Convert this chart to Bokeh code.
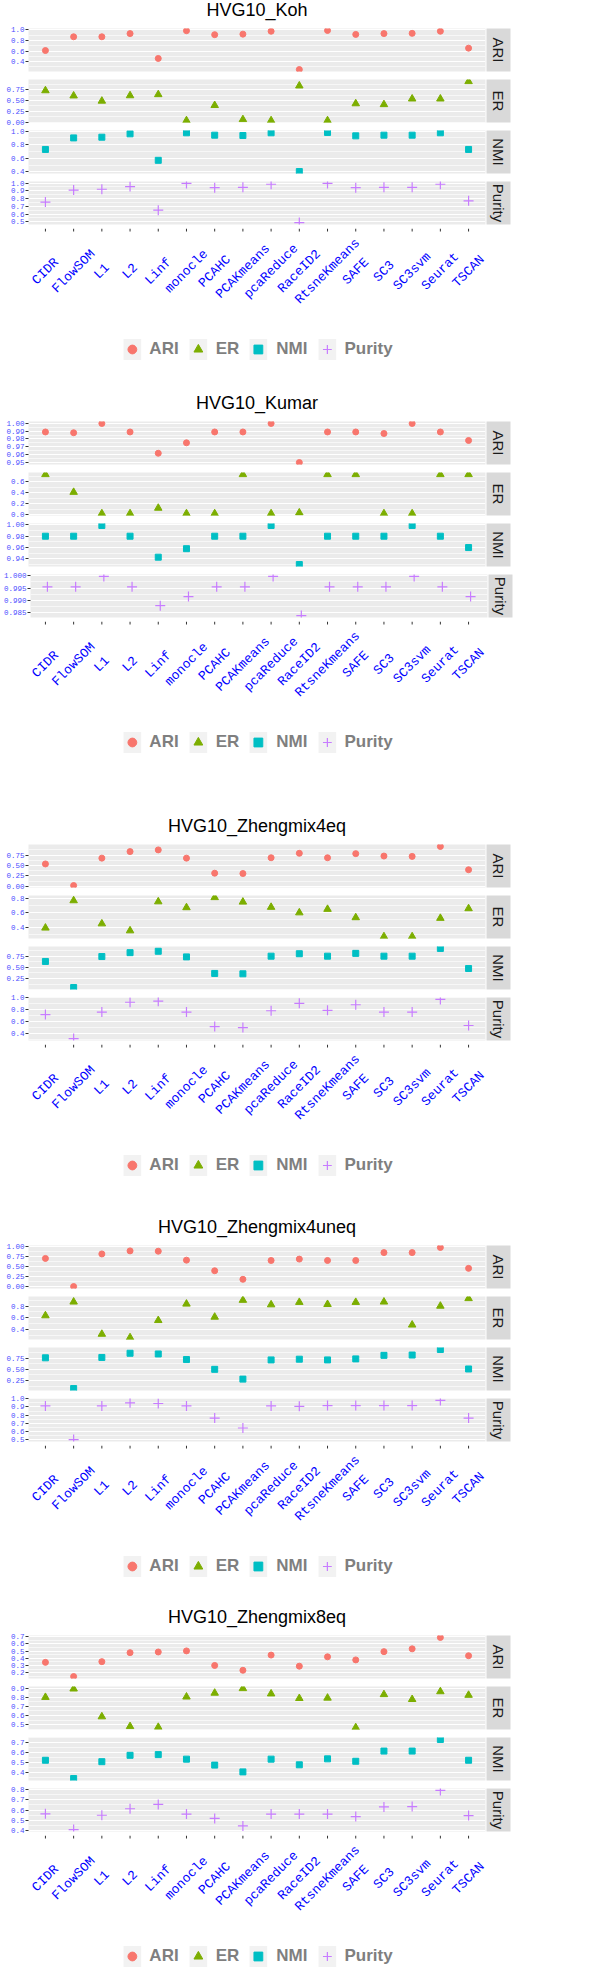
import math
from bokeh.plotting import figure
from bokeh.layouts import column, row
from bokeh.models import (Range1d, FactorRange, FixedTicker, PrintfTickFormatter,
                          Label, Legend, LegendItem)
from bokeh.embed import file_html
from bokeh.resources import INLINE
from bokeh.core.properties import value

# ---------------- data ----------------
methods = ["CIDR", "FlowSOM", "L1", "L2", "Linf", "monocle", "PCAHC", "PCAKmeans",
           "pcaReduce", "RaceID2", "RtsneKmeans", "SAFE", "SC3", "SC3svm", "Seurat", "TSCAN"]
metrics = ["ARI", "ER", "NMI", "Purity"]
titles = ["HVG10_Koh", "HVG10_Kumar", "HVG10_Zhengmix4eq", "HVG10_Zhengmix4uneq", "HVG10_Zhengmix8eq"]

koh_ari = [0.61, 0.87, 0.87, 0.93, 0.46, 0.985, 0.91, 0.92, 0.975, 0.25, 0.99, 0.915, 0.93, 0.935, 0.975, 0.655]
koh_er = [0.73, 0.61, 0.49, 0.615, 0.64, 0.04, 0.39, 0.065, 0.04, 0.84, 0.04, 0.43, 0.41, 0.54, 0.54, 0.94]
koh_nmi = [0.73, 0.90, 0.91, 0.96, 0.57, 0.975, 0.94, 0.935, 0.975, 0.405, 0.98, 0.93, 0.94, 0.94, 0.975, 0.73]
koh_purity = [0.755, 0.91, 0.92, 0.955, 0.65, 0.995, 0.94, 0.945, 0.985, 0.49, 0.995, 0.94, 0.945, 0.945, 0.985, 0.77]

kumar_ari = [0.989, 0.988, 1.0, 0.989, 0.9615, 0.975, 0.989, 0.989, 1.0, 0.9495, 0.989, 0.989, 0.987, 1.0, 0.989, 0.978]
kumar_er = [0.734, 0.41, 0.02, 0.02, 0.12, 0.02, 0.02, 0.734, 0.02, 0.035, 0.734, 0.734, 0.02, 0.02, 0.734, 0.734]
kumar_nmi = [0.98, 0.98, 0.999, 0.98, 0.943, 0.958, 0.98, 0.98, 0.999, 0.93, 0.98, 0.98, 0.98, 0.999, 0.98, 0.96]
kumar_purity = [0.9955, 0.9955, 0.9997, 0.9955, 0.9878, 0.9915, 0.9955, 0.9955, 0.9997, 0.9838, 0.9955, 0.9955,
                0.9955, 0.9997, 0.9955, 0.9915]

z4eq_ari = [0.536, 0.016, 0.676, 0.833, 0.874, 0.676, 0.313, 0.305, 0.685, 0.792, 0.685, 0.784, 0.726, 0.718, 0.957, 0.396]
z4eq_er = [0.39, 0.767, 0.448, 0.352, 0.752, 0.671, 0.81, 0.748, 0.676, 0.60, 0.648, 0.533, 0.271, 0.271, 0.524, 0.657]
z4eq_nmi = [0.632, 0.047, 0.742, 0.829, 0.86, 0.734, 0.363, 0.355, 0.75, 0.805, 0.75, 0.813, 0.75, 0.75, 0.923, 0.473]
z4eq_purity = [0.715, 0.311, 0.757, 0.923, 0.941, 0.757, 0.513, 0.496, 0.78, 0.905, 0.786, 0.881, 0.757, 0.757, 0.97, 0.531]

z4uneq_ari = [0.697, 0.008, 0.807, 0.882, 0.874, 0.655, 0.395, 0.185, 0.647, 0.681, 0.647, 0.647, 0.84, 0.84, 0.966, 0.454]
z4uneq_er = [0.638, 0.87, 0.325, 0.267, 0.557, 0.835, 0.614, 0.899, 0.823, 0.864, 0.829, 0.864, 0.87, 0.481, 0.80, 0.928]
z4uneq_nmi = [0.758, 0.07, 0.766, 0.86, 0.844, 0.719, 0.50, 0.281, 0.711, 0.727, 0.711, 0.734, 0.813, 0.82, 0.945, 0.508]
z4uneq_purity = [0.9125, 0.505, 0.9125, 0.95, 0.942, 0.9125, 0.765, 0.645, 0.9125, 0.908, 0.917, 0.917, 0.917, 0.917,
                 0.979, 0.765]

z8eq_ari = [0.344, 0.147, 0.354, 0.479, 0.488, 0.503, 0.301, 0.234, 0.445, 0.291, 0.421, 0.378, 0.493, 0.532, 0.69, 0.436]
z8eq_er = [0.80, 0.892, 0.588, 0.481, 0.473, 0.804, 0.846, 0.896, 0.838, 0.788, 0.792, 0.469, 0.83, 0.777, 0.862, 0.823]
z8eq_nmi = [0.522, 0.341, 0.508, 0.571, 0.578, 0.533, 0.474, 0.407, 0.533, 0.477, 0.536, 0.512, 0.613, 0.613, 0.728, 0.522]
z8eq_purity = [0.563, 0.41, 0.549, 0.612, 0.654, 0.56, 0.518, 0.445, 0.56, 0.56, 0.56, 0.536, 0.63, 0.633, 0.79, 0.546]

# y tick labels
koh_ticks = [["0.4", "0.6", "0.8", "1.0"], ["0.00", "0.25", "0.50", "0.75"],
             ["0.4", "0.6", "0.8", "1.0"], ["0.5", "0.6", "0.7", "0.8", "0.9", "1.0"]]
kumar_ticks = [["0.95", "0.96", "0.97", "0.98", "0.99", "1.00"], ["0.0", "0.2", "0.4", "0.6"],
               ["0.94", "0.96", "0.98", "1.00"], ["0.985", "0.990", "0.995", "1.000"]]
z4eq_ticks = [["0.00", "0.25", "0.50", "0.75"], ["0.4", "0.6", "0.8"],
              ["0.00", "0.25", "0.50", "0.75"], ["0.4", "0.6", "0.8", "1.0"]]
z4uneq_ticks = [["0.00", "0.25", "0.50", "0.75", "1.00"], ["0.4", "0.6", "0.8"],
                ["0.25", "0.50", "0.75"], ["0.5", "0.6", "0.7", "0.8", "0.9", "1.0"]]
z8eq_ticks = [["0.2", "0.3", "0.4", "0.5", "0.6", "0.7"], ["0.5", "0.6", "0.7", "0.8", "0.9"],
              ["0.4", "0.5", "0.6", "0.7"], ["0.4", "0.5", "0.6", "0.7", "0.8"]]

# ---------------- style ----------------
COLORS = {"ARI": "#F8766D", "ER": "#7CAE00", "NMI": "#00BFC4", "Purity": "#C77CFF"}
MARKERS = {"ARI": "circle", "ER": "triangle", "NMI": "square", "Purity": "cross"}
SIZES = {"ARI": 6, "ER": 7.5, "NMI": 6, "Purity": 10}

FRAME_W = 457
FRAME_H = 43
STRIP_W = 24
LEFT = 28
RIGHT_TOTAL = 1 + STRIP_W + 2
X_PAD = 0.1
TITLE_H = 24
TITLE_Y = 0.62
LABEL_FRAME_H = 134
LABEL_Y = 0.68
GAPS = [31, 61, 39, 28, 0]

blocks = [
    (titles[0], [koh_ari, koh_er, koh_nmi, koh_purity], koh_ticks),
    (titles[1], [kumar_ari, kumar_er, kumar_nmi, kumar_purity], kumar_ticks),
    (titles[2], [z4eq_ari, z4eq_er, z4eq_nmi, z4eq_purity], z4eq_ticks),
    (titles[3], [z4uneq_ari, z4uneq_er, z4uneq_nmi, z4uneq_purity], z4uneq_ticks),
    (titles[4], [z8eq_ari, z8eq_er, z8eq_nmi, z8eq_purity], z8eq_ticks),
]


def blank(frame_h, x_range, bottom=0):
    f = figure(x_range=x_range, y_range=Range1d(0, 1), frame_width=FRAME_W, frame_height=frame_h,
               toolbar_location=None, output_backend="svg",
               x_axis_location=None, y_axis_location=None,
               min_border_left=LEFT, min_border_right=RIGHT_TOTAL, min_border_top=0,
               min_border_bottom=bottom,
               background_fill_color="white", border_fill_color="white", outline_line_color=None)
    f.grid.visible = False
    return f


def facet(metric, vals, tick_labels, xr):
    lo, hi = min(vals), max(vals)
    r = hi - lo
    yr = Range1d(lo - 0.05 * r, hi + 0.05 * r)
    p = figure(x_range=xr, y_range=yr, frame_width=FRAME_W, frame_height=FRAME_H,
               toolbar_location=None, output_backend="svg",
               x_axis_location=None, y_axis_location="left",
               min_border_left=LEFT, min_border_right=1,
               min_border_top=4, min_border_bottom=4,
               background_fill_color="#EBEBEB", border_fill_color="white",
               outline_line_color=None)
    ticks = [float(t) for t in tick_labels]
    step = ticks[1] - ticks[0]
    minor = [ticks[0] - step / 2] + [(a + b) / 2 for a, b in zip(ticks[:-1], ticks[1:])] + [ticks[-1] + step / 2]
    dec = len(tick_labels[0].split(".")[1])
    ax = p.yaxis[0]
    ax.ticker = FixedTicker(ticks=ticks, minor_ticks=minor)
    ax.formatter = PrintfTickFormatter(format="%%.%df" % dec)
    ax.axis_line_color = None
    ax.major_tick_line_color = "#333333"
    ax.major_tick_out = 3
    ax.major_tick_in = 0
    ax.minor_tick_out = 0
    ax.minor_tick_in = 0
    ax.major_label_standoff = 1
    ax.major_label_text_font = "Liberation Mono"
    ax.major_label_text_font_size = "7.5px"
    ax.major_label_text_color = "#4d4dff"
    p.xgrid.visible = False
    p.ygrid.grid_line_color = "white"
    p.ygrid.grid_line_width = 1.2
    p.ygrid.minor_grid_line_color = "white"
    p.ygrid.minor_grid_line_width = 0.6
    if metric == "Purity":
        p.scatter(x=methods, y=vals, marker=MARKERS[metric], size=SIZES[metric],
                  line_color=COLORS[metric], line_width=1.2)
    else:
        p.scatter(x=methods, y=vals, marker=MARKERS[metric], size=SIZES[metric],
                  fill_color=COLORS[metric], line_color=COLORS[metric])

    s = figure(x_range=Range1d(0, 1), y_range=Range1d(0, 1), frame_width=STRIP_W, frame_height=FRAME_H,
               toolbar_location=None, output_backend="svg",
               x_axis_location=None, y_axis_location=None,
               min_border_left=0, min_border_right=2, min_border_top=4, min_border_bottom=4,
               background_fill_color="#D9D9D9", border_fill_color="white", outline_line_color=None)
    s.grid.visible = False
    s.add_layout(Label(x=0.5, y=0.5, text=metric, angle=-math.pi / 2, text_align="center",
                       text_baseline="middle", text_font="Liberation Sans", text_font_size="15px",
                       text_color="#1A1A1A"))
    return row(p, s, spacing=0)


items_all = []
for bi, (title, series, tick_sets) in enumerate(blocks):
    xr = FactorRange(*methods, range_padding=X_PAD, range_padding_units="absolute")

    t = blank(TITLE_H, Range1d(0, 1))
    t.text(x=[0.5], y=[TITLE_Y], text=[title], text_align="center", text_baseline="middle",
           text_font=value("Liberation Sans"), text_font_size="18px", text_color="black")
    items_all.append(t)

    for mi, metric in enumerate(metrics):
        items_all.append(facet(metric, series[mi], tick_sets[mi], xr))

    q = blank(LABEL_FRAME_H, xr, bottom=GAPS[bi])
    # axis ticks under the bottom panel
    q.ray(x=methods, y=[1] * len(methods), length=3, length_units="screen", angle=-math.pi / 2,
          line_color="#333333", line_width=1)
    q.text(x=methods, y=[LABEL_Y] * len(methods), text=methods, angle=math.pi / 4,
           text_align="center", text_baseline="middle", text_font=value("Liberation Mono"),
           text_font_size="13px", text_color="blue")
    nan = float("nan")
    bg = q.quad(left=[methods[0]], right=[methods[0]], top=[nan], bottom=[nan],
                fill_color="#F2F2F2", line_color=None)
    items = []
    for metric in metrics:
        if metric == "Purity":
            r = q.scatter(x=[methods[0]], y=[nan], marker=MARKERS[metric],
                          line_color=COLORS[metric], line_width=1.2)
        else:
            r = q.scatter(x=[methods[0]], y=[nan], marker=MARKERS[metric],
                          fill_color=COLORS[metric], line_color=COLORS[metric])
        items.append(LegendItem(label=metric, renderers=[bg, r]))
    leg = Legend(items=items, orientation="horizontal", location="bottom",
                 glyph_width=22, glyph_height=26, label_standoff=7, spacing=8,
                 padding=0, margin=0, border_line_color=None, background_fill_alpha=0,
                 label_text_font="Liberation Sans", label_text_font_style="bold",
                 label_text_font_size="17px", label_text_color="#7F7F7F")
    q.add_layout(leg)
    items_all.append(q)

layout = column(*items_all, spacing=0)
open("out.html", "w").write(file_html(layout, INLINE))
